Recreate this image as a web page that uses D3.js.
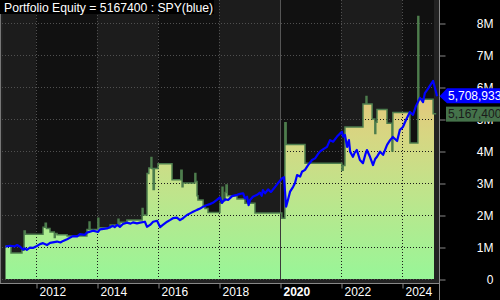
<!DOCTYPE html>
<html>
<head>
<meta charset="utf-8">
<script src="https://cdn.jsdelivr.net/npm/d3@7"></script>
<style>
  body { margin: 0; background: #000; }
  svg { display: block; font-family: "Liberation Sans", Arial, sans-serif; }
</style>
</head>
<body>
<svg id="chart" width="500" height="300"></svg>
<script>
// Portfolio equity (millions) - step series, [year, value]
const equityCurve = [
  [2011.00, 1.03], [2011.18, 0.81], [2011.54, 0.90], [2011.61, 1.50], [2011.65, 1.40],
  [2012.23, 1.62], [2012.30, 1.74], [2012.34, 1.58], [2012.46, 1.47], [2012.60, 1.30],
  [2012.63, 1.42], [2012.69, 1.38], [2013.02, 1.34], [2013.67, 1.55], [2013.74, 1.78],
  [2013.77, 1.55], [2014.03, 1.90], [2014.06, 1.60], [2014.43, 1.69], [2014.69, 1.87],
  [2014.72, 1.70], [2014.75, 1.77], [2014.98, 1.84], [2015.48, 2.20], [2015.51, 2.00],
  [2015.64, 3.30], [2015.70, 3.47], [2015.77, 3.80], [2015.80, 3.45], [2015.84, 2.80],
  [2015.88, 3.45], [2016.00, 3.60], [2016.46, 3.10], [2016.75, 3.40], [2016.79, 2.88],
  [2016.82, 3.00], [2017.21, 3.30], [2017.24, 3.05], [2017.28, 2.60], [2017.31, 2.47],
  [2017.48, 2.30], [2017.54, 2.20], [2017.64, 2.08], [2018.03, 2.37], [2018.10, 2.87],
  [2018.13, 2.45], [2018.20, 2.70], [2018.23, 2.94], [2018.27, 2.60], [2018.59, 2.50],
  [2018.85, 2.37], [2019.18, 2.06], [2020.06, 1.90], [2020.16, 4.88], [2020.20, 4.20],
  [2020.82, 3.62], [2022.03, 3.40], [2022.07, 3.55], [2022.13, 4.75], [2022.72, 5.47],
  [2022.82, 5.70], [2022.85, 5.47], [2023.02, 5.00], [2023.11, 4.55], [2023.14, 4.90],
  [2023.18, 5.30], [2023.51, 4.87], [2023.67, 4.00], [2023.70, 5.20], [2024.26, 4.25],
  [2024.52, 8.20], [2024.55, 5.62], [2025.02, 5.1674], [2025.12, 5.1674]
];

// SPY scaled to the same start (millions), [year, value]
const spyCurve = [
  [2011.00, 1.01], [2011.08, 1.03], [2011.15, 1.04], [2011.30, 1.02], [2011.38, 1.06],
  [2011.48, 1.01], [2011.57, 0.92], [2011.62, 0.96], [2011.70, 0.91], [2011.80, 0.98],
  [2011.90, 0.97], [2012.03, 1.03], [2012.13, 1.09], [2012.23, 1.12], [2012.36, 1.06],
  [2012.46, 1.13], [2012.69, 1.17], [2012.80, 1.14], [2012.89, 1.19], [2013.02, 1.24],
  [2013.21, 1.34], [2013.35, 1.33], [2013.44, 1.40], [2013.60, 1.38], [2013.67, 1.45],
  [2013.87, 1.51], [2014.03, 1.47], [2014.10, 1.55], [2014.33, 1.58], [2014.52, 1.66],
  [2014.58, 1.62], [2014.66, 1.69], [2014.75, 1.63], [2014.85, 1.72], [2014.98, 1.76],
  [2015.10, 1.73], [2015.18, 1.77], [2015.31, 1.74], [2015.41, 1.76], [2015.57, 1.79],
  [2015.64, 1.63], [2015.74, 1.69], [2015.84, 1.79], [2015.97, 1.82], [2016.07, 1.62],
  [2016.16, 1.69], [2016.30, 1.79], [2016.39, 1.84], [2016.49, 1.90], [2016.62, 1.92],
  [2016.72, 1.84], [2016.82, 1.90], [2016.95, 2.00], [2017.05, 2.05], [2017.15, 2.10],
  [2017.28, 2.16], [2017.38, 2.20], [2017.48, 2.26], [2017.61, 2.31], [2017.70, 2.34],
  [2017.80, 2.38], [2017.93, 2.47], [2018.03, 2.55], [2018.10, 2.38], [2018.20, 2.49],
  [2018.30, 2.47], [2018.43, 2.59], [2018.59, 2.63], [2018.69, 2.66], [2018.79, 2.68],
  [2018.85, 2.52], [2018.92, 2.57], [2018.97, 2.31], [2019.02, 2.47], [2019.11, 2.57],
  [2019.25, 2.63], [2019.34, 2.70], [2019.40, 2.60], [2019.44, 2.78], [2019.51, 2.68],
  [2019.61, 2.80], [2019.70, 2.72], [2019.74, 2.76], [2019.84, 2.88], [2019.93, 2.99],
  [2020.07, 3.15], [2020.13, 3.18], [2020.20, 2.26], [2020.26, 2.47], [2020.33, 2.73],
  [2020.43, 2.88], [2020.49, 2.99], [2020.56, 3.25], [2020.66, 3.20], [2020.72, 3.35],
  [2020.82, 3.41], [2020.92, 3.56], [2021.05, 3.72], [2021.15, 3.77], [2021.25, 3.91],
  [2021.31, 3.98], [2021.41, 4.05], [2021.54, 4.13], [2021.64, 4.34], [2021.74, 4.29],
  [2021.87, 4.45], [2021.97, 4.55], [2022.03, 4.60], [2022.07, 4.45], [2022.13, 4.50],
  [2022.20, 4.13], [2022.26, 4.34], [2022.30, 3.98], [2022.39, 3.82], [2022.45, 3.95],
  [2022.52, 4.03], [2022.62, 3.72], [2022.72, 3.62], [2022.80, 3.90], [2022.85, 4.03],
  [2022.95, 3.82], [2023.05, 3.56], [2023.12, 3.75], [2023.18, 3.82], [2023.28, 3.98],
  [2023.38, 3.88], [2023.51, 4.19], [2023.61, 4.34], [2023.70, 4.44], [2023.84, 4.31],
  [2023.93, 4.66], [2024.03, 4.75], [2024.13, 4.97], [2024.26, 5.22], [2024.36, 5.13],
  [2024.46, 5.41], [2024.59, 5.66], [2024.69, 5.53], [2024.75, 5.81], [2024.85, 5.94],
  [2024.95, 6.09], [2025.02, 6.19], [2025.08, 5.97], [2025.15, 5.708933]
];

const xTicks = [2012, 2014, 2016, 2018, 2020, 2022, 2024];
const yTicks = [0, 1, 2, 3, 4, 5, 6, 7, 8];
const titleText = 'Portfolio Equity = 5167400 : SPY(blue)';
const spyLabel = '5,708,933';
const equityLabel = '5,167,400';

const svg = d3.select('#chart');

// plot frame
const plotL = 2, plotR = 434, plotT = 0, plotB = 279;
const frameRight = 439.5, frameBottom = 283.5;

const x = d3.scaleLinear().domain([2010.918, 2025.213]).range([3, 439]);
const y = d3.scaleLinear().domain([0, 8]).range([279, 23]);

// gradient for the equity fill
const defs = svg.append('defs');
const grad = defs.append('linearGradient')
  .attr('id', 'eqGrad')
  .attr('gradientUnits', 'userSpaceOnUse')
  .attr('x1', 0).attr('x2', 0)
  .attr('y1', y(0)).attr('y2', y(6));
[[0, '#98f698'], [0.45, '#bfe48b'], [0.75, '#d7d682'], [1, '#e6c47a']].forEach(s => {
  grad.append('stop').attr('offset', s[0]).attr('stop-color', s[1]);
});

defs.append('clipPath').attr('id', 'plotClip')
  .append('rect').attr('x', plotL).attr('y', plotT).attr('width', plotR - plotL).attr('height', plotB - plotT);

const area = d3.area()
  .curve(d3.curveStepAfter)
  .x(d => x(d[0]))
  .y0(y(0))
  .y1(d => y(d[1]));

const line = d3.line()
  .curve(d3.curveStepAfter)
  .x(d => x(d[0]))
  .y(d => y(d[1]));

defs.append('clipPath').attr('id', 'areaClip')
  .append('path').attr('d', area(equityCurve));

// panel background
svg.append('rect').attr('x', 0).attr('y', 0).attr('width', frameRight).attr('height', frameBottom)
  .attr('fill', '#222');

// alternating 2-year bands
const bandEdges = [x.domain()[0]].concat(xTicks);
const bands = bandEdges.map((b, i) => [b, i + 1 < bandEdges.length ? bandEdges[i + 1] : x.invert(plotR)]);
svg.append('g')
  .selectAll('rect')
  .data(bands)
  .enter().append('rect')
  .attr('x', d => Math.max(plotL, x(d[0])))
  .attr('y', plotT)
  .attr('width', d => Math.min(plotR, x(d[1])) - Math.max(plotL, x(d[0])))
  .attr('height', plotB - plotT)
  .attr('fill', (d, i) => i % 2 === 0 ? '#1c1c1c' : '#111');

// grid drawn with a given colour
function drawGrid(g, col, solidCol) {
  g.selectAll('.hg')
    .data(yTicks)
    .enter().append('line')
    .attr('x1', plotL).attr('x2', plotR)
    .attr('y1', d => Math.round(y(d)) + 0.5).attr('y2', d => Math.round(y(d)) + 0.5)
    .attr('stroke', col).attr('stroke-dasharray', '1,2');
  g.selectAll('.vg')
    .data(xTicks)
    .enter().append('line')
    .attr('x1', d => Math.round(x(d)) + 0.5).attr('x2', d => Math.round(x(d)) + 0.5)
    .attr('y1', plotT).attr('y2', plotB)
    .attr('stroke', d => d === 2020 ? solidCol : col)
    .attr('stroke-dasharray', d => d === 2020 ? null : '1,2');
}

drawGrid(svg.append('g'), '#505050', '#555');

// equity fill + outline
svg.append('path')
  .attr('clip-path', 'url(#plotClip)')
  .attr('d', area(equityCurve))
  .attr('fill', 'url(#eqGrad)');

drawGrid(svg.append('g').attr('clip-path', 'url(#areaClip)'), '#1a1a1a', '#3a3a3a');

svg.append('path')
  .attr('d', line(equityCurve))
  .attr('fill', 'none')
  .attr('stroke', '#4d7d4d')
  .attr('stroke-width', 1.5);

// SPY line
svg.append('path')
  .attr('d', d3.line().x(d => x(d[0])).y(d => y(d[1]))(spyCurve))
  .attr('fill', 'none')
  .attr('stroke', '#0000ff')
  .attr('stroke-width', 2.2)
  .attr('stroke-linejoin', 'round');

// frame lines
svg.append('line').attr('x1', 0.5).attr('x2', 0.5).attr('y1', 0).attr('y2', frameBottom)
  .attr('stroke', '#777');
svg.append('line').attr('x1', 0).attr('x2', frameRight).attr('y1', frameBottom).attr('y2', frameBottom)
  .attr('stroke', '#888');
svg.append('line').attr('x1', frameRight).attr('x2', frameRight).attr('y1', 0).attr('y2', 300)
  .attr('stroke', '#888');

// right axis
const yAxis = svg.append('g')
  .attr('transform', `translate(${frameRight},0)`)
  .call(d3.axisRight(y).tickValues(yTicks).tickSize(6).tickFormat(d => d === 0 ? '0' : d + 'M'));
yAxis.select('.domain').remove();
yAxis.selectAll('line').attr('stroke', '#888').attr('transform', 'translate(0,0.5)');
yAxis.selectAll('text')
  .attr('x', 54).attr('dy', '0.36em')
  .attr('text-anchor', 'end')
  .attr('fill', '#fff')
  .style('font-size', '12px')
  .style('font-family', '"Liberation Sans", Arial, sans-serif');

// bottom axis
const xAxis = svg.append('g')
  .attr('transform', `translate(0,${frameBottom})`)
  .call(d3.axisBottom(x).tickValues(xTicks).tickSize(5).tickFormat(d3.format('d')));
xAxis.select('.domain').remove();
xAxis.selectAll('line').attr('stroke', '#888').attr('transform', 'translate(0.5,0)');
xAxis.selectAll('text')
  .attr('x', 3).attr('y', 12).attr('dy', null)
  .attr('text-anchor', 'start')
  .attr('fill', '#fff')
  .style('font-size', '12px')
  .style('font-weight', d => d === 2020 ? 'bold' : 'normal')
  .style('font-family', '"Liberation Sans", Arial, sans-serif');

// last value labels (the texts run past the right edge, as in the original)
const spyY = y(spyCurve[spyCurve.length - 1][1]);
const eqY = Math.max(y(equityCurve[equityCurve.length - 1][1]), spyY + 16);

svg.append('rect').attr('x', 446).attr('y', eqY - 7).attr('width', 60).attr('height', 15)
  .attr('fill', '#44724a');
svg.append('text').attr('x', 448).attr('y', eqY + 4.5)
  .attr('fill', '#1a1a1a').style('font-size', '12px')
  .text(equityLabel);

svg.append('path')
  .attr('d', `M${frameRight},${spyY} L447,${spyY - 8} L500,${spyY - 8} L500,${spyY + 7} L447,${spyY + 7} Z`)
  .attr('fill', '#0000ff');
svg.append('text').attr('x', 448).attr('y', spyY + 4)
  .attr('fill', '#fff').style('font-size', '12px')
  .text(spyLabel);

// title
svg.append('rect').attr('x', 0).attr('y', 0).attr('width', 214).attr('height', 14).attr('fill', '#000');
svg.append('text').attr('x', 4).attr('y', 11.5)
  .attr('fill', '#fff').style('font-size', '12.2px')
  .text(titleText);
</script>
</body>
</html>
